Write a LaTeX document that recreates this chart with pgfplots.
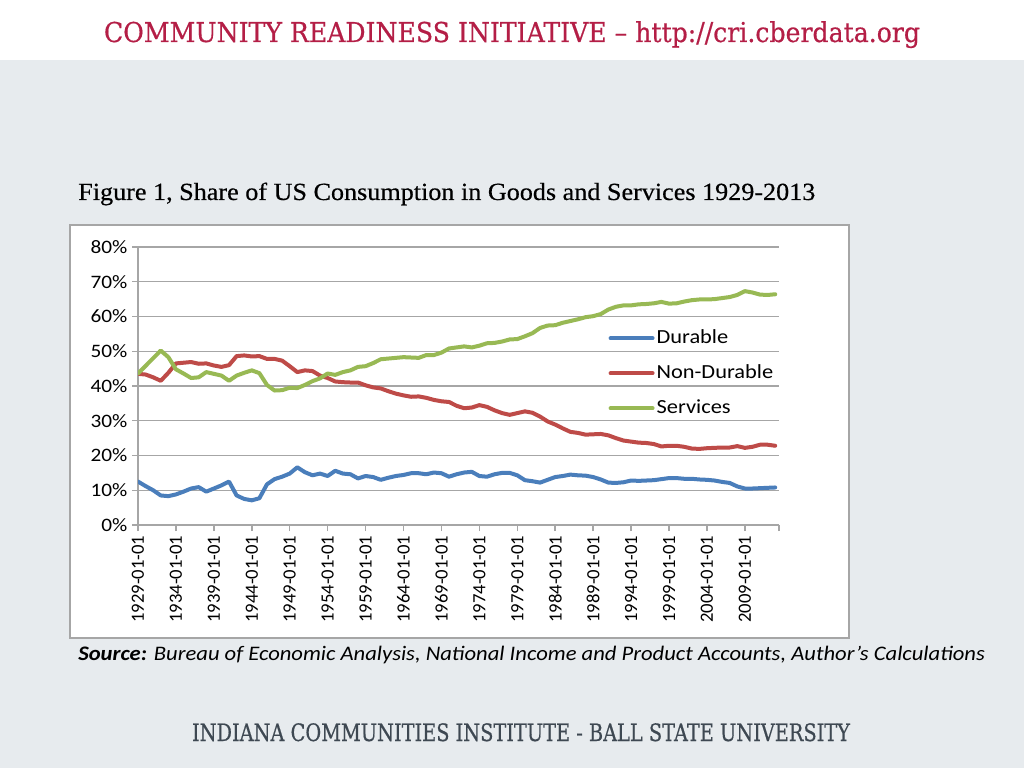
\documentclass[border=0pt]{standalone}
\usepackage{pgfplots}
\pgfplotsset{compat=1.18}
\usepackage{pgfplotstable}
\usepackage{fontspec}
\usepackage{graphicx}
\setmainfont{Carlito}
\newfontfamily\calst[FakeStretch=1.12]{Carlito}
\newfontfamily\slab[FakeBold=0.6]{DejaVu Serif}
\newfontfamily\titlefont[FakeBold=0.4]{Liberation Serif}
\definecolor{bg}{HTML}{E7EBEE}
\definecolor{hdr}{HTML}{B41E46}
\definecolor{ftr}{HTML}{3E4852}
\definecolor{dur}{HTML}{4A7EBB}
\definecolor{nd}{HTML}{BE4B48}
\definecolor{sv}{HTML}{98B954}
\definecolor{gridc}{HTML}{A6A6A6}
\pgfplotstableread{
year dur nd sv
1929 12.5 43.5 43.6
1930 11.2 43.3 45.8
1931 10.0 42.5 48.0
1932 8.5 41.5 50.2
1933 8.3 43.8 48.3
1934 8.8 46.5 44.8
1935 9.6 46.7 43.6
1936 10.5 46.9 42.3
1937 10.9 46.4 42.5
1938 9.6 46.5 44.0
1939 10.5 45.9 43.5
1940 11.4 45.5 43.0
1941 12.5 46.0 41.5
1942 8.5 48.6 43.0
1943 7.5 48.8 43.8
1944 7.1 48.5 44.5
1945 7.7 48.6 43.7
1946 11.7 47.8 40.3
1947 13.2 47.8 38.7
1948 13.9 47.3 38.8
1949 14.8 45.7 39.5
1950 16.6 44.0 39.4
1951 15.2 44.5 40.3
1952 14.3 44.3 41.4
1953 14.8 43.0 42.2
1954 14.1 42.3 43.6
1955 15.6 41.3 43.2
1956 14.8 41.1 44.0
1957 14.6 41.0 44.5
1958 13.4 41.0 45.5
1959 14.1 40.2 45.7
1960 13.8 39.6 46.6
1961 13.0 39.3 47.7
1962 13.6 38.5 47.9
1963 14.1 37.8 48.1
1964 14.4 37.3 48.3
1965 14.9 36.9 48.2
1966 14.9 37.0 48.1
1967 14.6 36.6 48.9
1968 15.1 36.0 48.9
1969 14.9 35.6 49.6
1970 13.9 35.4 50.8
1971 14.6 34.3 51.1
1972 15.1 33.6 51.4
1973 15.3 33.8 51.1
1974 14.1 34.5 51.6
1975 13.9 34.0 52.3
1976 14.6 33.0 52.4
1977 15.0 32.2 52.8
1978 15.0 31.7 53.4
1979 14.3 32.2 53.5
1980 12.9 32.7 54.3
1981 12.6 32.3 55.2
1982 12.2 31.2 56.7
1983 13.0 29.8 57.4
1984 13.8 28.9 57.5
1985 14.1 27.8 58.2
1986 14.5 26.8 58.7
1987 14.3 26.5 59.2
1988 14.2 26.0 59.8
1989 13.8 26.1 60.1
1990 13.1 26.2 60.7
1991 12.2 25.8 62.0
1992 12.1 25.0 62.8
1993 12.3 24.3 63.2
1994 12.8 24.0 63.2
1995 12.7 23.7 63.5
1996 12.8 23.6 63.6
1997 12.9 23.3 63.8
1998 13.2 22.6 64.2
1999 13.5 22.8 63.7
2000 13.5 22.8 63.8
2001 13.3 22.5 64.3
2002 13.3 22.0 64.7
2003 13.1 21.9 64.9
2004 13.0 22.1 64.9
2005 12.8 22.2 65.0
2006 12.4 22.3 65.3
2007 12.1 22.3 65.6
2008 11.1 22.7 66.2
2009 10.5 22.2 67.3
2010 10.5 22.5 66.9
2011 10.6 23.1 66.3
2012 10.7 23.1 66.2
2013 10.8 22.8 66.4
}\datatable
\begin{document}
\begin{tikzpicture}
\fill[bg] (0pt,0pt) rectangle (768pt,576pt);
\fill[white] (0pt,531pt) rectangle (768pt,576pt);
\filldraw[fill=white,draw=gridc,line width=1.1pt] (52.5pt,407.25pt) rectangle (636.75pt,97.5pt);
\node[text=hdr,inner sep=0pt,anchor=base] at (384pt,544.5pt) {\resizebox{612pt}{\height}{\slab\fontsize{20.5pt}{24pt}\selectfont COMMUNITY READINESS INITIATIVE – http://cri.cberdata.org}};
\node[text=ftr,inner sep=0pt,anchor=base] at (390.75pt,20.25pt) {\resizebox{493.5pt}{\height}{\slab\fontsize{18pt}{21pt}\selectfont INDIANA COMMUNITIES INSTITUTE - BALL STATE UNIVERSITY}};
\node[inner sep=0pt,anchor=base west] at (58.5pt,426pt) {\resizebox{552.75pt}{\height}{\titlefont\fontsize{18.5pt}{21pt}\selectfont Figure 1, Share of US Consumption in Goods and Services 1929-2013}};
\node[inner sep=0pt,anchor=base west] at (58.5pt,81pt) {\resizebox{680pt}{\height}{\fontsize{15.5pt}{18pt}\selectfont\itshape\textbf{Source:} Bureau of Economic Analysis, National Income and Product Accounts, Author’s Calculations}};
\begin{axis}[
  at={(103.5pt,182.25pt)}, anchor=south west,
  scale only axis, width=480.75pt, height=208.5pt,
  xmin=1929, xmax=2013.5, ymin=0, ymax=80,
  axis lines*=left,
  axis line style={gridc,line width=1.1pt},
  ymajorgrids, grid style={gridc,line width=1.1pt},
  ytick={0,10,...,80},
  yticklabels={0\%,10\%,20\%,30\%,40\%,50\%,60\%,70\%,80\%},
  xtick={1929,1934,...,2009},
  xticklabels={1929-01-01,1934-01-01,1939-01-01,1944-01-01,1949-01-01,1954-01-01,1959-01-01,1964-01-01,1969-01-01,1974-01-01,1979-01-01,1984-01-01,1989-01-01,1994-01-01,1999-01-01,2004-01-01,2009-01-01},
  extra x ticks={2013.5}, extra x tick labels={},
  tick align=outside, major tick length=4.5pt,
  tick style={gridc,line width=1.1pt},
  yticklabel style={font=\calst\fontsize{14.25pt}{16pt}\selectfont},
  xticklabel style={font=\fontsize{14pt}{16pt}\selectfont, rotate=90, anchor=east},
  legend style={at={(axis cs:1991,57.0)}, anchor=north west, draw=none, fill=none,
    font=\calst\fontsize{15pt}{17pt}\selectfont, inner sep=0pt, row sep=9.75pt,
    nodes={inner sep=1.5pt, text height=10.5pt, text depth=3pt}},
  legend cell align=left,
  legend image code/.code={\draw[#1] (0pt,0pt) -- (31.5pt,0pt);},
  every axis plot/.append style={line width=3pt, line join=round, line cap=round},
]
\addplot[dur] table[x=year,y=dur] {\datatable};
\addplot[nd] table[x=year,y=nd] {\datatable};
\addplot[sv] table[x=year,y=sv] {\datatable};
\legend{Durable,Non-Durable,Services}
\end{axis}
\end{tikzpicture}
\end{document}
